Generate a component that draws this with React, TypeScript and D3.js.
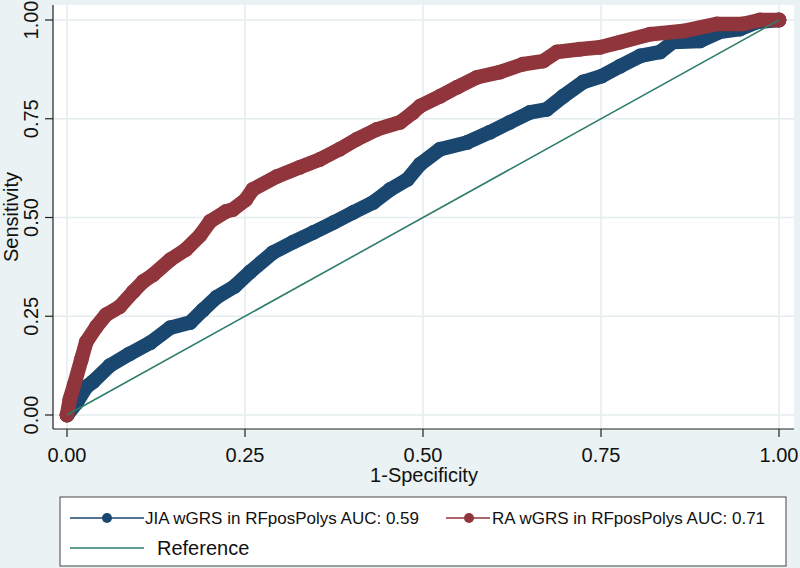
import React from 'react';
import * as d3 from 'd3';

// ROC points (1-specificity, sensitivity)
const jiaFpr = [0, 0.013, 0.027, 0.037, 0.06, 0.088, 0.117, 0.145, 0.173, 0.191, 0.21, 0.235, 0.257, 0.289, 0.317, 0.346, 0.374, 0.402, 0.43, 0.454, 0.478, 0.496, 0.524, 0.562, 0.594, 0.622, 0.65, 0.674, 0.697, 0.725, 0.751, 0.777, 0.805, 0.833, 0.851, 0.889, 0.917, 0.945, 0.969, 1];
const jiaTpr = [0, 0.03, 0.071, 0.085, 0.125, 0.155, 0.183, 0.221, 0.234, 0.266, 0.298, 0.325, 0.362, 0.411, 0.437, 0.462, 0.487, 0.513, 0.538, 0.571, 0.596, 0.635, 0.673, 0.69, 0.716, 0.741, 0.766, 0.774, 0.807, 0.843, 0.858, 0.883, 0.909, 0.919, 0.944, 0.947, 0.97, 0.977, 0.995, 1];

const raFpr = [0, 0.004, 0.01, 0.02, 0.027, 0.041, 0.055, 0.074, 0.093, 0.107, 0.121, 0.145, 0.167, 0.187, 0.201, 0.223, 0.233, 0.251, 0.261, 0.295, 0.327, 0.355, 0.383, 0.407, 0.435, 0.468, 0.486, 0.496, 0.524, 0.548, 0.576, 0.608, 0.64, 0.669, 0.688, 0.72, 0.749, 0.777, 0.819, 0.865, 0.913, 0.949, 0.973, 1];
const raTpr = [0, 0.04, 0.076, 0.14, 0.185, 0.223, 0.254, 0.274, 0.312, 0.338, 0.355, 0.393, 0.419, 0.455, 0.49, 0.515, 0.52, 0.545, 0.571, 0.604, 0.627, 0.647, 0.673, 0.698, 0.723, 0.741, 0.766, 0.782, 0.807, 0.83, 0.855, 0.868, 0.888, 0.896, 0.919, 0.926, 0.931, 0.944, 0.964, 0.972, 0.99, 0.99, 1, 1];

const tickValues = [0, 0.25, 0.5, 0.75, 1];
const tickLabels = ['0.00', '0.25', '0.50', '0.75', '1.00'];

const legendLabels = ['JIA wGRS in RFposPolys AUC: 0.59', 'RA wGRS in RFposPolys AUC: 0.71', 'Reference'];

const navy = '#1a476f';
const maroon = '#90353b';
const teal = '#2e7d6c';
const bg = '#eaf2f3';
const grid = '#e4ecee';
const font = '"Liberation Sans", Arial, sans-serif';

const App: React.FC = () => {
  const width = 800;
  const height = 568;

  const x = d3.scaleLinear().domain([0, 1]).range([67, 779]);
  const y = d3.scaleLinear().domain([0, 1]).range([415, 20]);

  const plot = { left: 53, right: 794, top: 5, bottom: 429 };

  const line = d3.line<[number, number]>()
    .x(d => x(d[0]))
    .y(d => y(d[1]));

  const jia: [number, number][] = jiaFpr.map((f, i) => [f, jiaTpr[i]]);
  const ra: [number, number][] = raFpr.map((f, i) => [f, raTpr[i]]);

  const series = [
    { pts: jia, color: navy },
    { pts: ra, color: maroon },
  ];

  return (
    <svg width={width} height={height} style={{ position: 'absolute', left: 0, top: 0, fontFamily: font }}>
      <rect x={0} y={0} width={width} height={height} fill={bg} />
      <rect x={plot.left} y={plot.top} width={plot.right - plot.left} height={plot.bottom - plot.top} fill="#fff" />

      {/* grid */}
      {tickValues.map(t => (
        <g key={'g' + t}>
          <line x1={plot.left} x2={plot.right} y1={y(t)} y2={y(t)} stroke={grid} strokeWidth={1.5} />
          <line x1={x(t)} x2={x(t)} y1={plot.top} y2={plot.bottom} stroke={grid} strokeWidth={1.5} />
        </g>
      ))}

      {/* curves: markers overlap into a thick band */}
      {series.map((s, si) => (
        <g key={'s' + si}>
          <path d={line(s.pts) || ''} fill="none" stroke={s.color} strokeWidth={14.5} strokeLinejoin="round" strokeLinecap="round" />
          {s.pts.map((p, i) => (
            <circle key={i} cx={x(p[0])} cy={y(p[1])} r={7.4} fill={s.color} />
          ))}
        </g>
      ))}

      {/* reference line */}
      <line x1={x(0)} y1={y(0)} x2={x(1)} y2={y(1)} stroke={teal} strokeWidth={1.6} />

      {/* axes */}
      <line x1={plot.left} x2={plot.left} y1={plot.top} y2={plot.bottom} stroke="#222" strokeWidth={1.2} />
      <line x1={plot.left} x2={plot.right} y1={plot.bottom} y2={plot.bottom} stroke="#222" strokeWidth={1.2} />

      {tickValues.map((t, i) => (
        <g key={'yt' + t}>
          <line x1={plot.left - 8} x2={plot.left} y1={y(t)} y2={y(t)} stroke="#222" strokeWidth={1.2} />
          <text transform={`translate(38,${y(t)}) rotate(-90)`} textAnchor="middle" fontSize={20} fill="#111">{tickLabels[i]}</text>
        </g>
      ))}
      {tickValues.map((t, i) => (
        <g key={'xt' + t}>
          <line x1={x(t)} x2={x(t)} y1={plot.bottom} y2={plot.bottom + 8} stroke="#222" strokeWidth={1.2} />
          <text x={x(t)} y={462} textAnchor="middle" fontSize={20} fill="#111">{tickLabels[i]}</text>
        </g>
      ))}

      <text x={424} y={482} textAnchor="middle" fontSize={20} fill="#111">1-Specificity</text>
      <text transform={`translate(18,${(plot.top + plot.bottom) / 2}) rotate(-90)`} textAnchor="middle" fontSize={20} fill="#111">Sensitivity</text>

      {/* legend */}
      <rect x={60} y={497} width={726} height={69} fill="#fff" stroke="#444" strokeWidth={1} />
      <line x1={70} x2={144} y1={518} y2={518} stroke={navy} strokeWidth={1.6} />
      <circle cx={107} cy={518} r={5} fill={navy} />
      <text x={145} y={524} fontSize={17} fill="#111">{legendLabels[0]}</text>
      <line x1={446} x2={490} y1={518} y2={518} stroke={maroon} strokeWidth={1.6} />
      <circle cx={469} cy={518} r={5} fill={maroon} />
      <text x={492} y={524} fontSize={17} fill="#111">{legendLabels[1]}</text>
      <line x1={70} x2={144} y1={548} y2={548} stroke={teal} strokeWidth={1.6} />
      <text x={157} y={555} fontSize={20} fill="#111">{legendLabels[2]}</text>
    </svg>
  );
};

export default App;
